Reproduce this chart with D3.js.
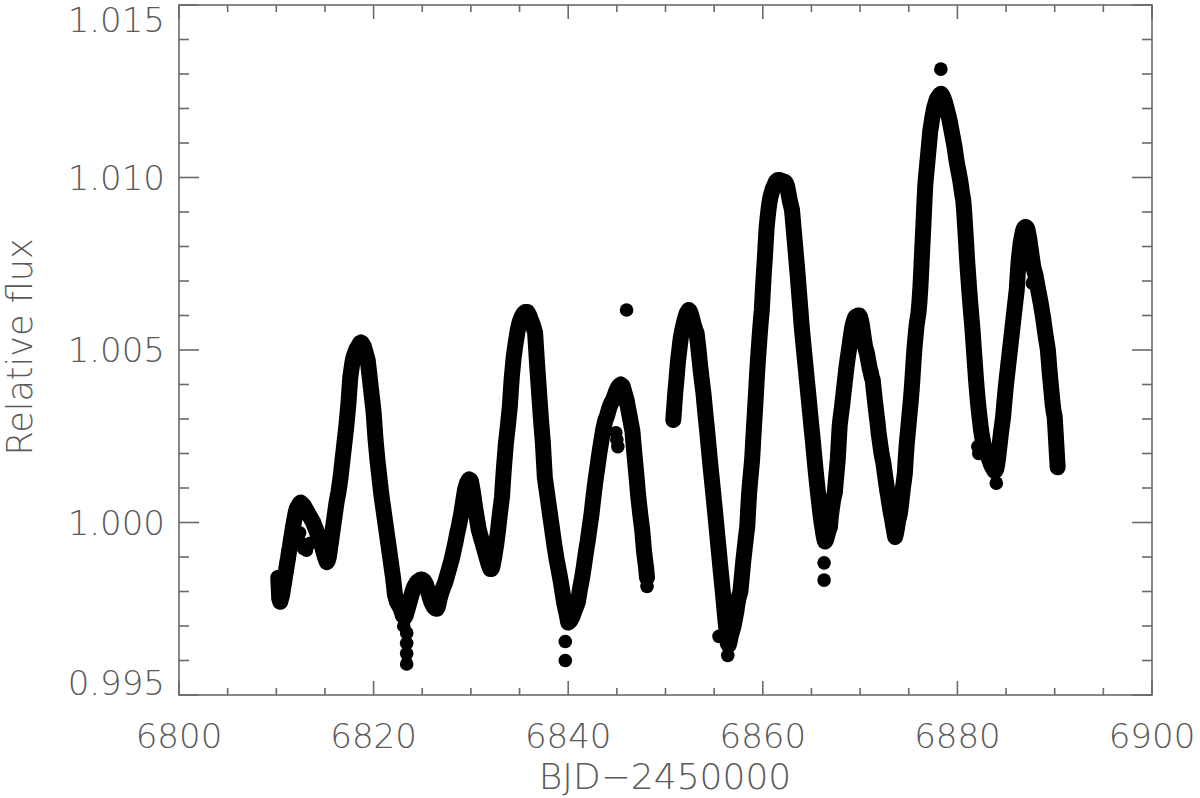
<!DOCTYPE html>
<html>
<head>
<meta charset="utf-8">
<script src="https://cdn.jsdelivr.net/npm/d3@7"></script>
<style>
  html, body { margin: 0; padding: 0; background: #fff; }
  svg { display: block; }
</style>
</head>
<body>
<div id="chart"></div>
<script>
// light curve, relative flux - 1 in parts per thousand, 0.1 d cadence
const cadence = 0.1;

const segAStart = 6810.2;
const fluxA = [
  -1.6, -2.2, -2.3, -2.2, -2.1, -1.9, -1.75, -1.55,
  -1.4, -1.2, -1.05, -0.85, -0.7, -0.5, -0.35, -0.15, 0.0, 0.15,
  0.3, 0.4, 0.45, 0.5, 0.55, 0.58, 0.55, 0.52, 0.5, 0.45,
  0.4, 0.35, 0.3, 0.25, 0.2, 0.15, 0.1, 0.05, 0.0, -0.08,
  -0.15, -0.22, -0.3, -0.35, -0.4, -0.48, -0.55, -0.68, -0.8, -0.9,
  -1.0, -1.08, -1.15, -1.1, -1.0, -0.8, -0.6, -0.4, -0.2, 0.0,
  0.2, 0.4, 0.6, 0.75, 0.9, 1.1, 1.3, 1.55, 1.8, 2.05,
  2.3, 2.55, 2.8, 3.1, 3.4, 3.8, 4.2, 4.4, 4.6, 4.75,
  4.85, 4.92, 5.0, 5.05, 5.1, 5.15, 5.2, 5.22, 5.2, 5.15,
  5.1, 5.0, 4.9, 4.8, 4.7, 4.45, 4.2, 3.95, 3.7, 3.45,
  3.2, 2.8, 2.4, 2.1, 1.8, 1.55, 1.3, 1.05, 0.8, 0.6,
  0.4, 0.2, 0.0, -0.2, -0.4, -0.6, -0.8, -1.0, -1.2, -1.4,
  -1.6, -1.85, -2.1, -2.2, -2.3, -2.35, -2.4, -2.45, -2.5, -2.6,
  -2.7, -2.72, -2.75, -2.7, -2.6, -2.5, -2.4, -2.3, -2.2, -2.1,
  -2.0, -1.92, -1.85, -1.8, -1.75, -1.72, -1.7, -1.68, -1.65, -1.65,
  -1.65, -1.68, -1.7, -1.75, -1.8, -1.9, -2.0, -2.1, -2.2, -2.28,
  -2.35, -2.4, -2.45, -2.48, -2.5, -2.5, -2.45, -2.32, -2.2, -2.1,
  -2.0, -1.92, -1.85, -1.78, -1.7, -1.6, -1.5, -1.4, -1.3, -1.2,
  -1.1, -0.98, -0.85, -0.72, -0.6, -0.45, -0.3, -0.18, -0.05, 0.1,
  0.25, 0.42, 0.6, 0.78, 0.95, 1.05, 1.15, 1.2, 1.25, 1.24,
  1.2, 1.05, 0.9, 0.7, 0.5, 0.32, 0.15, -0.02, -0.2, -0.3,
  -0.4, -0.5, -0.6, -0.7, -0.8, -0.9, -1.0, -1.1, -1.2, -1.28,
  -1.35, -1.35, -1.3, -1.15, -1.0, -0.82, -0.65, -0.42, -0.2, 0.05,
  0.3, 0.52, 0.75, 1.2, 1.6, 1.95, 2.3, 2.55, 2.8, 3.08,
  3.35, 3.8, 4.2, 4.5, 4.8, 5.0, 5.2, 5.38, 5.55, 5.68,
  5.8, 5.88, 5.95, 6.0, 6.05, 6.08, 6.1, 6.1, 6.1, 6.05,
  6.0, 5.92, 5.85, 5.78, 5.7, 5.6, 5.5, 5.05, 4.6, 4.2,
  3.8, 3.4, 3.0, 2.65, 2.3, 1.8, 1.3, 1.1, 0.9, 0.7,
  0.5, 0.3, 0.1, -0.1, -0.3, -0.5, -0.7, -0.88, -1.05, -1.2,
  -1.35, -1.5, -1.65, -1.82, -2.0, -2.18, -2.35, -2.48, -2.6, -2.75,
  -2.9, -2.88, -2.85, -2.8, -2.75, -2.68, -2.6, -2.52, -2.45, -2.38,
  -2.3, -2.12, -1.95, -1.8, -1.65, -1.48, -1.3, -1.1, -0.9, -0.72,
  -0.55, -0.35, -0.15, 0.05, 0.25, 0.5, 0.75, 0.98, 1.2, 1.4,
  1.6, 1.8, 2.0, 2.18, 2.35, 2.52, 2.7, 2.82, 2.95, 3.02,
  3.1, 3.2, 3.3, 3.38, 3.45, 3.5, 3.55, 3.62, 3.7, 3.78,
  3.85, 3.9, 3.95, 3.98, 4.0, 3.98, 3.95, 3.85, 3.75, 3.65,
  3.55, 3.4, 3.25, 3.1, 2.95, 2.8, 2.65, 2.32, 2.0, 1.7,
  1.4, 1.08, 0.75, 0.5, 0.25, 0.02, -0.2, -0.52, -0.85, -1.08,
  -1.3, -1.6
];

const segBStart = 6850.8;
const fluxB = [
  2.97, 3.35,
  3.75, 4.05, 4.4, 4.71, 4.95, 5.2, 5.4, 5.55, 5.67, 5.8,
  5.9, 6.0, 6.08, 6.12, 6.16, 6.12, 6.05, 5.95, 5.85, 5.72,
  5.65, 5.55, 5.49, 5.25, 5.0, 4.71, 4.45, 4.2, 3.98, 3.75,
  3.45, 3.15, 2.88, 2.6, 2.3, 2.0, 1.7, 1.42, 1.15, 0.86,
  0.58, 0.3, 0.0, -0.3, -0.59, -0.88, -1.18, -1.47, -1.75, -2.04,
  -2.35, -2.65, -2.95, -3.2, -3.5, -3.55, -3.45, -3.3, -3.2, -3.1,
  -3.0, -2.85, -2.7, -2.55, -2.35, -2.2, -2.1, -2.0, -1.7, -1.4,
  -1.1, -0.85, -0.6, -0.35, -0.13, 0.4, 0.86, 1.2, 1.5, 1.81,
  2.3, 2.8, 3.26, 3.75, 4.25, 4.71, 5.1, 5.5, 5.85, 6.16,
  6.7, 7.2, 7.6, 8.1, 8.57, 8.85, 9.1, 9.3, 9.45, 9.55,
  9.65, 9.72, 9.78, 9.85, 9.9, 9.92, 9.93, 9.93, 9.92, 9.9,
  9.9, 9.88, 9.88, 9.87, 9.82, 9.75, 9.6, 9.45, 9.3, 9.18,
  9.06, 8.75, 8.42, 8.1, 7.78, 7.45, 7.12, 6.75, 6.4, 6.05,
  5.67, 5.38, 5.09, 4.8, 4.51, 4.22, 3.93, 3.65, 3.35, 3.06,
  2.77, 2.5, 2.2, 1.9, 1.6, 1.32, 1.05, 0.8, 0.55, 0.3,
  0.07, -0.1, -0.3, -0.45, -0.55, -0.5, -0.4, -0.3, -0.2, -0.13,
  0.2, 0.4, 0.6, 0.75, 0.86, 1.2, 1.5, 1.81, 2.3, 2.8,
  3.05, 3.26, 3.5, 3.75, 4.0, 4.25, 4.5, 4.71, 4.9, 5.1,
  5.3, 5.5, 5.67, 5.78, 5.88, 5.95, 5.98, 5.98, 6.0, 6.0,
  5.95, 5.85, 5.7, 5.5, 5.3, 5.12, 5.0, 4.91, 4.75, 4.6,
  4.45, 4.35, 4.2, 4.13, 3.85, 3.6, 3.35, 3.1, 2.88, 2.6,
  2.4, 2.2, 2.0, 1.85, 1.72, 1.5, 1.3, 1.1, 0.9, 0.74,
  0.55, 0.38, 0.22, 0.07, -0.1, -0.25, -0.42, -0.3, -0.15, 0.05,
  0.15, 0.28, 0.5, 0.75, 1.0, 1.2, 1.43, 1.9, 2.3, 2.59,
  2.9, 3.2, 3.5, 3.84, 4.25, 4.7, 5.09, 5.4, 5.7, 5.9,
  6.07, 6.4, 6.83, 7.4, 8.0, 8.6, 9.2, 9.78, 10.1, 10.4,
  10.7, 11.0, 11.33, 11.5, 11.7, 11.85, 12.0, 12.1, 12.2, 12.28,
  12.32, 12.36, 12.4, 12.43, 12.4, 12.35, 12.28, 12.2, 12.1, 12.0,
  11.88, 11.78, 11.65, 11.5, 11.35, 11.2, 11.05, 10.9, 10.7, 10.5,
  10.35, 10.2, 10.05, 9.9, 9.7, 9.5, 9.35, 9.0, 8.55, 8.1,
  7.6, 7.2, 6.8, 6.44, 6.1, 5.78, 5.4, 5.0, 4.6, 4.2,
  3.85, 3.52, 3.25, 3.0, 2.75, 2.55, 2.4, 2.25, 2.15, 2.05,
  2.0, 1.95, 1.88, 1.8, 1.72, 1.65, 1.6, 1.55, 1.5, 1.5,
  1.55, 1.7, 1.9, 2.15, 2.4, 2.65, 2.85, 3.06, 3.4, 3.7,
  4.0, 4.25, 4.5, 4.75, 5.0, 5.25, 5.5, 5.75, 6.0, 6.25,
  6.5, 6.74, 7.2, 7.6, 7.85, 8.1, 8.25, 8.4, 8.5, 8.55,
  8.57, 8.55, 8.5, 8.35, 8.2, 8.0, 7.8, 7.6, 7.4, 7.3,
  7.2, 7.05, 6.9, 6.75, 6.6, 6.45, 6.3, 6.12, 5.96, 5.75,
  5.55, 5.35, 5.18, 5.0, 4.65, 4.3, 4.0, 3.7, 3.4, 3.2,
  3.06, 2.6, 2.1, 1.6
];

// scattered points and outliers off the main band
const extraT = [6812.4, 6812.6, 6812.8, 6813.1, 6813.5, 6823.1, 6823.4, 6823.4, 6823.4, 6823.4,
  6839.7, 6839.7, 6846.0, 6844.9, 6845.0, 6845.1, 6848.1, 6855.5, 6856.4, 6866.3,
  6866.3, 6878.3, 6882.1, 6882.2, 6884.0, 6887.7];
const extraF = [-0.3, -0.6, -0.75, -0.8, -0.6, -3.0, -3.2, -3.5, -3.8, -4.1,
  -3.45, -4.0, 6.16, 2.6, 2.4, 2.2, -1.85, -3.3, -3.85, -1.17,
  -1.67, 13.14, 2.2, 2.0, 1.14, 6.94];

const xMajorTicks = [6800, 6820, 6840, 6860, 6880, 6900];
const xMinorTicks = d3.range(6805, 6900, 5).filter(v => v % 20 !== 0);
const yMajorTicks = [0.995, 1.000, 1.005, 1.010, 1.015];
const yMinorTicks = [0.996, 0.997, 0.998, 0.999, 1.001, 1.002, 1.003, 1.004,
  1.006, 1.007, 1.008, 1.009, 1.011, 1.012, 1.013, 1.014];

const width = 1200, height = 798;
const plotLeft = 179, plotRight = 1152, plotTop = 5, plotBottom = 695;
const dotRadius = 6.8;
const axisColor = '#6a6a6a', textColor = '#5a5a5a';
const font = "'DejaVu Sans', sans-serif";

const x = d3.scaleLinear().domain([6800, 6900]).range([plotLeft, plotRight]);
const y = d3.scaleLinear().domain([0.995, 1.015]).range([plotBottom, plotTop]);

const toPoints = (start, flux) => flux.map((f, i) => ({ t: start + i * cadence, f: 1 + f / 1000 }));
const segments = [toPoints(segAStart, fluxA), toPoints(segBStart, fluxB)];
const extras = extraT.map((t, i) => ({ t: t, f: 1 + extraF[i] / 1000 }));
const points = segments[0].concat(segments[1], extras);

const svg = d3.select('#chart').append('svg')
  .attr('width', width)
  .attr('height', height);

// the real cadence is much denser than the values read off here,
// so the dots of each segment are joined into a band (a bit wider for the scatter)
const band = d3.line().x(d => x(d.t)).y(d => y(d.f));

svg.append('g')
  .selectAll('path')
  .data(segments)
  .join('path')
  .attr('d', band)
  .attr('fill', 'none')
  .attr('stroke', '#000')
  .attr('stroke-width', 16)
  .attr('stroke-linecap', 'round')
  .attr('stroke-linejoin', 'round');

svg.append('g')
  .selectAll('circle')
  .data(points)
  .join('circle')
  .attr('cx', d => x(d.t))
  .attr('cy', d => y(d.f))
  .attr('r', dotRadius)
  .attr('fill', '#000');

// frame
svg.append('rect')
  .attr('x', plotLeft).attr('y', plotTop)
  .attr('width', plotRight - plotLeft).attr('height', plotBottom - plotTop)
  .attr('fill', 'none')
  .attr('stroke', axisColor)
  .attr('stroke-width', 1.6);

const ticks = svg.append('g').attr('stroke', axisColor).attr('stroke-width', 1.6);

function xTicks(values, len) {
  values.forEach(v => {
    ticks.append('line').attr('x1', x(v)).attr('x2', x(v)).attr('y1', plotBottom).attr('y2', plotBottom - len);
    ticks.append('line').attr('x1', x(v)).attr('x2', x(v)).attr('y1', plotTop).attr('y2', plotTop + len);
  });
}
function yTicks(values, len) {
  values.forEach(v => {
    ticks.append('line').attr('x1', plotLeft).attr('x2', plotLeft + len).attr('y1', y(v)).attr('y2', y(v));
    ticks.append('line').attr('x1', plotRight).attr('x2', plotRight - len).attr('y1', y(v)).attr('y2', y(v));
  });
}
xTicks(xMajorTicks, 14);
xTicks(xMinorTicks, 7);
yTicks(yMajorTicks, 20);
yTicks(yMinorTicks, 10);

const labels = svg.append('g')
  .attr('font-family', font)
  .attr('font-weight', 200)
  .attr('font-size', '34px')
  .attr('fill', textColor);

labels.selectAll('.xl')
  .data(xMajorTicks)
  .join('text')
  .attr('x', d => x(d))
  .attr('y', 748)
  .attr('text-anchor', 'middle')
  .text(d => d);

labels.selectAll('.yl')
  .data(yMajorTicks)
  .join('text')
  .attr('x', 165)
  .attr('y', d => Math.min(Math.max(y(d), 20), 683) + 12)
  .attr('text-anchor', 'end')
  .text(d => d3.format('.3f')(d));

svg.append('text')
  .attr('x', 665)
  .attr('y', 789)
  .attr('text-anchor', 'middle')
  .attr('font-family', font)
  .attr('font-weight', 200)
  .attr('font-size', '36px')
  .attr('fill', textColor)
  .text('BJD\u22122450000');

svg.append('text')
  .attr('transform', 'translate(32, 347) rotate(-90)')
  .attr('text-anchor', 'middle')
  .attr('font-family', font)
  .attr('font-weight', 200)
  .attr('font-size', '35px')
  .attr('fill', textColor)
  .text('Relative flux');
</script>
</body>
</html>
